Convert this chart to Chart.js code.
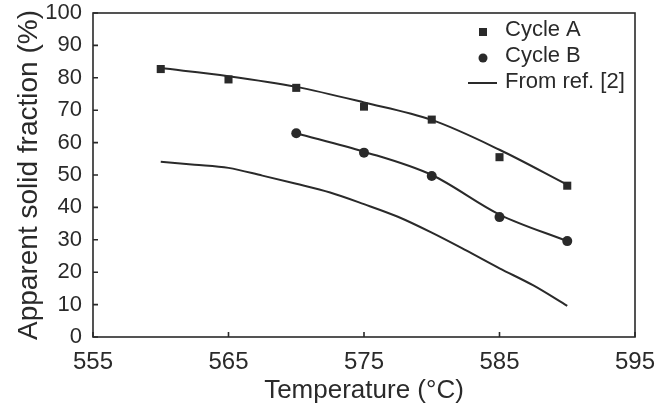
<!DOCTYPE html>
<html>
<head>
<meta charset="utf-8">
<script src="https://cdn.jsdelivr.net/npm/chart.js@4.4.0/dist/chart.umd.min.js"></script>
<style>
  html, body { margin: 0; padding: 0; background: #fff; }
  #wrap { width: 672px; height: 406px; }
</style>
</head>
<body>
<div id="wrap"><canvas id="chart" width="672" height="406"></canvas></div>
<script>
// measured data
const tempA = [560, 565, 570, 575, 580, 585, 590];
const cycleA = [82.7, 79.5, 76.9, 71.1, 67.1, 55.5, 46.7];
const fitA = [83.0, 80.5, 77.2, 72.4, 67.0, 57.8, 47.0];

const tempB = [570, 575, 580, 585, 590];
const cycleB = [62.9, 56.9, 49.7, 37.0, 29.6];
const fitB = [62.9, 57.2, 50.0, 37.8, 29.6];

const tempRef = [560, 562.5, 565, 567.5, 570, 572.5, 575, 577.5, 580, 582.5, 585, 587.5, 590];
const refLine = [54.1, 53.2, 52.2, 49.8, 47.3, 44.6, 41.0, 37.1, 32.2, 26.8, 21.2, 15.9, 9.6];

const xTicks = [555, 565, 575, 585, 595];
const yTicks = [0, 10, 20, 30, 40, 50, 60, 70, 80, 90, 100];

const ink = '#2a2a2a';
const font = 'Liberation Sans, Arial, sans-serif';

function pairs(xs, ys) {
    return xs.map(function (x, i) { return { x: x, y: ys[i] }; });
}

// frame, inward ticks and legend
const framePlugin = {
    id: 'frame',
    afterDraw: function (chart) {
        const ctx = chart.ctx;
        const a = chart.chartArea;
        const xs = chart.scales.x;
        const ys = chart.scales.y;
        ctx.save();
        ctx.strokeStyle = ink;
        ctx.lineWidth = 1.6;
        ctx.strokeRect(a.left, a.top, a.right - a.left, a.bottom - a.top);
        ctx.beginPath();
        yTicks.forEach(function (v) {
            const y = ys.getPixelForValue(v);
            ctx.moveTo(a.left, y);
            ctx.lineTo(a.left + 5, y);
        });
        xTicks.forEach(function (v) {
            const x = xs.getPixelForValue(v);
            ctx.moveTo(x, a.bottom);
            ctx.lineTo(x, a.bottom - 5);
        });
        ctx.stroke();

        // legend
        ctx.fillStyle = ink;
        ctx.font = '22px ' + font;
        ctx.textBaseline = 'middle';
        ctx.fillRect(479, 28, 8, 8);
        ctx.fillText('Cycle A', 505, 30);
        ctx.beginPath();
        ctx.arc(483, 58, 4.5, 0, Math.PI * 2);
        ctx.fill();
        ctx.fillText('Cycle B', 505, 56);
        ctx.beginPath();
        ctx.lineWidth = 2;
        ctx.moveTo(468, 83);
        ctx.lineTo(497, 83);
        ctx.stroke();
        ctx.fillText('From ref. [2]', 505, 82);
        ctx.restore();
    }
};

const lineStyle = {
    showLine: true,
    borderColor: ink,
    borderWidth: 2,
    pointRadius: 0,
    cubicInterpolationMode: 'monotone',
    fill: false
};

new Chart(document.getElementById('chart'), {
    type: 'scatter',
    data: {
        datasets: [
            Object.assign({ label: 'fit A', data: pairs(tempA, fitA) }, lineStyle),
            Object.assign({ label: 'fit B', data: pairs(tempB, fitB) }, lineStyle),
            Object.assign({ label: 'From ref. [2]', data: pairs(tempRef, refLine) }, lineStyle),
            {
                label: 'Cycle A',
                data: pairs(tempA, cycleA),
                pointStyle: 'rect',
                pointRadius: 5.7,
                backgroundColor: ink,
                borderColor: ink,
                borderWidth: 0
            },
            {
                label: 'Cycle B',
                data: pairs(tempB, cycleB),
                pointStyle: 'circle',
                pointRadius: 5,
                backgroundColor: ink,
                borderColor: ink,
                borderWidth: 0
            }
        ]
    },
    options: {
        responsive: false,
        animation: false,
        layout: { padding: { top: 13, right: 37, left: 0, bottom: 0 } },
        plugins: {
            legend: { display: false },
            tooltip: { enabled: false }
        },
        scales: {
            x: {
                type: 'linear',
                min: 555,
                max: 595,
                afterFit: function (s) {
                    s.height = 69;
                    s.paddingLeft = 0;
                    s.paddingRight = 0;
                },
                afterBuildTicks: function (s) {
                    s.ticks = xTicks.map(function (v) { return { value: v }; });
                },
                grid: { display: false, drawTicks: false },
                border: { display: false },
                ticks: { color: ink, padding: 11, font: { family: font, size: 24 } },
                title: {
                    display: true,
                    text: 'Temperature (°C)',
                    color: ink,
                    padding: { top: 0, bottom: 0 },
                    font: { family: font, size: 26 }
                }
            },
            y: {
                min: 0,
                max: 100,
                afterFit: function (s) {
                    s.width = 93;
                    s.paddingTop = 0;
                    s.paddingBottom = 0;
                },
                afterBuildTicks: function (s) {
                    s.ticks = yTicks.map(function (v) { return { value: v }; });
                },
                grid: { display: false, drawTicks: false },
                border: { display: false },
                ticks: { color: ink, padding: 11, font: { family: font, size: 22 } },
                title: {
                    display: true,
                    text: 'Apparent solid fraction (%)',
                    color: ink,
                    padding: { top: 12, bottom: 0 },
                    font: { family: font, size: 28 }
                }
            }
        }
    },
    plugins: [framePlugin]
});
</script>
</body>
</html>
